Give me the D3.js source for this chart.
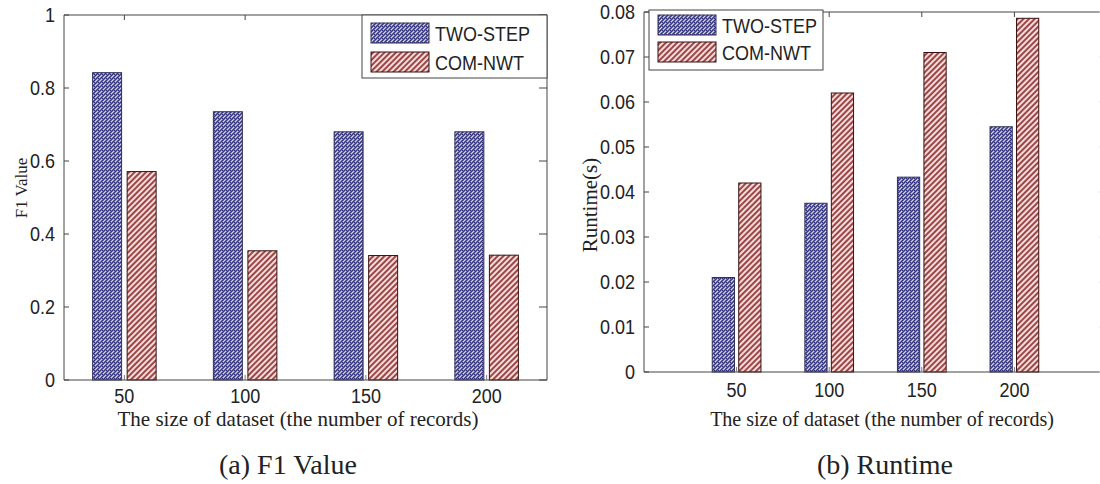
<!DOCTYPE html>
<html>
<head>
<meta charset="utf-8">
<script src="https://cdn.jsdelivr.net/npm/d3@7"></script>
<style>
  body { margin: 0; background: #fff; }
  svg { display: block; }
  .sans { font-family: "Liberation Sans", Arial, sans-serif; font-size: 18px; fill: #222; }
  .serif { font-family: "Liberation Serif", "Times New Roman", serif; fill: #222; }
</style>
</head>
<body>
<svg id="chart" width="1100" height="484"></svg>
<script>
// data
const sizes = ["50", "100", "150", "200"];
const seriesNames = ["TWO-STEP", "COM-NWT"];
const f1TwoStep = [0.842, 0.735, 0.68, 0.68];
const f1ComNwt = [0.571, 0.354, 0.341, 0.342];
const rtTwoStep = [0.021, 0.0375, 0.0433, 0.0545];
const rtComNwt = [0.042, 0.062, 0.071, 0.0786];
const f1Ticks = [0, 0.2, 0.4, 0.6, 0.8, 1];
const rtTicks = [0, 0.01, 0.02, 0.03, 0.04, 0.05, 0.06, 0.07, 0.08];

const svg = d3.select("#chart");
const defs = svg.append("defs");

// blue dotted fill
const pb = defs.append("pattern").attr("id", "pBlue")
  .attr("patternUnits", "userSpaceOnUse").attr("width", 4).attr("height", 4);
pb.append("rect").attr("width", 4).attr("height", 4).attr("fill", "#7676b4");
[[0, 0], [2, 0], [1, 1], [3, 1], [0, 2], [2, 2], [1, 3], [3, 3]].forEach(function(p, i) {
  pb.append("rect").attr("x", p[0]).attr("y", p[1]).attr("width", 1).attr("height", 1)
    .attr("fill", i % 3 === 0 ? "#d4d4f0" : "#34347e");
});

// red diagonal stripes
const pr = defs.append("pattern").attr("id", "pRed")
  .attr("patternUnits", "userSpaceOnUse").attr("width", 4).attr("height", 4)
  .attr("patternTransform", "rotate(45)");
pr.append("rect").attr("width", 4).attr("height", 4).attr("fill", "#f4dcdc");
pr.append("rect").attr("width", 2).attr("height", 4).attr("fill", "#9c4646");

const fills = ["url(#pBlue)", "url(#pRed)"];
const strokes = ["#30305a", "#3a1010"];

// text a bit taller than wide, like the picture
function label(g, x, y, str, anchor, dy) {
  return g.append("text").attr("class", "sans")
    .attr("transform", "translate(" + x + "," + y + ") scale(1,1.15)")
    .attr("dy", dy || 0)
    .attr("text-anchor", anchor || "start").text(str);
}

function drawPanel(cfg) {
  const x = d3.scaleLinear().domain(cfg.xDomain).range([cfg.left, cfg.right]);
  const y = d3.scaleLinear().domain(cfg.yDomain).range([cfg.bottom, cfg.top]);
  const g = svg.append("g");
  const clipRight = Math.min(cfg.right, 1100);

  const barW = x(0.24) - x(0);
  const offs = [-0.143, 0.143];
  [cfg.a, cfg.b].forEach(function(vals, s) {
    g.selectAll(".bar" + s).data(vals).enter().append("rect")
      .attr("x", (d, i) => x(i + 1 + offs[s]) - barW / 2)
      .attr("width", barW)
      .attr("y", d => y(d))
      .attr("height", d => y(0) - y(d))
      .attr("fill", fills[s])
      .attr("stroke", strokes[s])
      .attr("stroke-width", 1);
  });

  // frame
  const axc = "#444";
  g.append("line").attr("x1", cfg.left).attr("x2", clipRight).attr("y1", cfg.bottom).attr("y2", cfg.bottom).attr("stroke", axc);
  g.append("line").attr("x1", cfg.left).attr("x2", clipRight).attr("y1", cfg.top).attr("y2", cfg.top).attr("stroke", axc);
  g.append("line").attr("x1", cfg.left).attr("x2", cfg.left).attr("y1", cfg.top).attr("y2", cfg.bottom).attr("stroke", axc);
  if (cfg.right <= 1100) {
    g.append("line").attr("x1", cfg.right).attr("x2", cfg.right).attr("y1", cfg.top).attr("y2", cfg.bottom).attr("stroke", axc);
  }

  // x ticks
  sizes.forEach(function(lbl, i) {
    const xp = x(i + 1);
    g.append("line").attr("x1", xp).attr("x2", xp).attr("y1", cfg.bottom).attr("y2", cfg.bottom - 5).attr("stroke", "#777");
    g.append("line").attr("x1", xp).attr("x2", xp).attr("y1", cfg.top).attr("y2", cfg.top + 5).attr("stroke", axc);
    label(g, xp, cfg.xLabelY, lbl, "middle");
  });

  // y ticks
  cfg.yTicks.forEach(function(t) {
    const yp = y(t);
    g.append("line").attr("x1", cfg.left).attr("x2", cfg.left + 5).attr("y1", yp).attr("y2", yp).attr("stroke", axc);
    g.append("line").attr("x1", cfg.right).attr("x2", cfg.right - 8).attr("y1", yp).attr("y2", yp)
      .attr("stroke", cfg.right <= 1100 ? axc : "#ddd");
    label(g, cfg.left - 9, yp, d3.format("~g")(t), "end", "0.36em");
  });

  // legend
  const L = cfg.legend;
  g.append("rect").attr("x", L.x).attr("y", L.y).attr("width", L.w).attr("height", L.h)
    .attr("fill", "#fff").attr("stroke", axc);
  seriesNames.forEach(function(name, s) {
    const sy = L.y + L.pad + s * L.step;
    g.append("rect").attr("x", L.x + 9).attr("y", sy).attr("width", 58).attr("height", 20)
      .attr("fill", fills[s]).attr("stroke", strokes[s]);
    label(g, L.x + 73, sy + 18, name);
  });

  // axis titles
  g.append("text").attr("class", "serif").attr("font-size", cfg.titleSize)
    .attr("x", cfg.titleX).attr("y", 426).attr("text-anchor", "middle")
    .text("The size of dataset (the number of records)");
  g.append("text").attr("class", "serif").attr("font-size", cfg.yTitleSize)
    .attr("transform", "translate(" + cfg.yTitleX + "," + cfg.yTitleY + ") rotate(-90)")
    .attr("text-anchor", "middle").text(cfg.yTitle);
  g.append("text").attr("class", "serif").attr("font-size", 28)
    .attr("x", cfg.capX).attr("y", 474).attr("text-anchor", "middle").text(cfg.caption);
}

drawPanel({
  xDomain: [0.5, 4.5], yDomain: [0, 1], left: 64, right: 547, top: 15, bottom: 380,
  a: f1TwoStep, b: f1ComNwt, yTicks: f1Ticks, xLabelY: 403,
  legend: { x: 362, y: 15, w: 185, h: 63, pad: 8, step: 29 },
  titleX: 298, titleSize: 21, yTitle: "F1 Value", yTitleSize: 17, yTitleX: 27, yTitleY: 188,
  caption: "(a) F1 Value", capX: 288
});

drawPanel({
  xDomain: [0, 5], yDomain: [0, 0.08], left: 644, right: 1107, top: 12, bottom: 372,
  a: rtTwoStep, b: rtComNwt, yTicks: rtTicks, xLabelY: 397,
  legend: { x: 649, y: 10, w: 174, h: 60, pad: 5, step: 27 },
  titleX: 882, titleSize: 20, yTitle: "Runtime(s)", yTitleSize: 21, yTitleX: 597, yTitleY: 205,
  caption: "(b) Runtime", capX: 885
});
</script>
</body>
</html>
